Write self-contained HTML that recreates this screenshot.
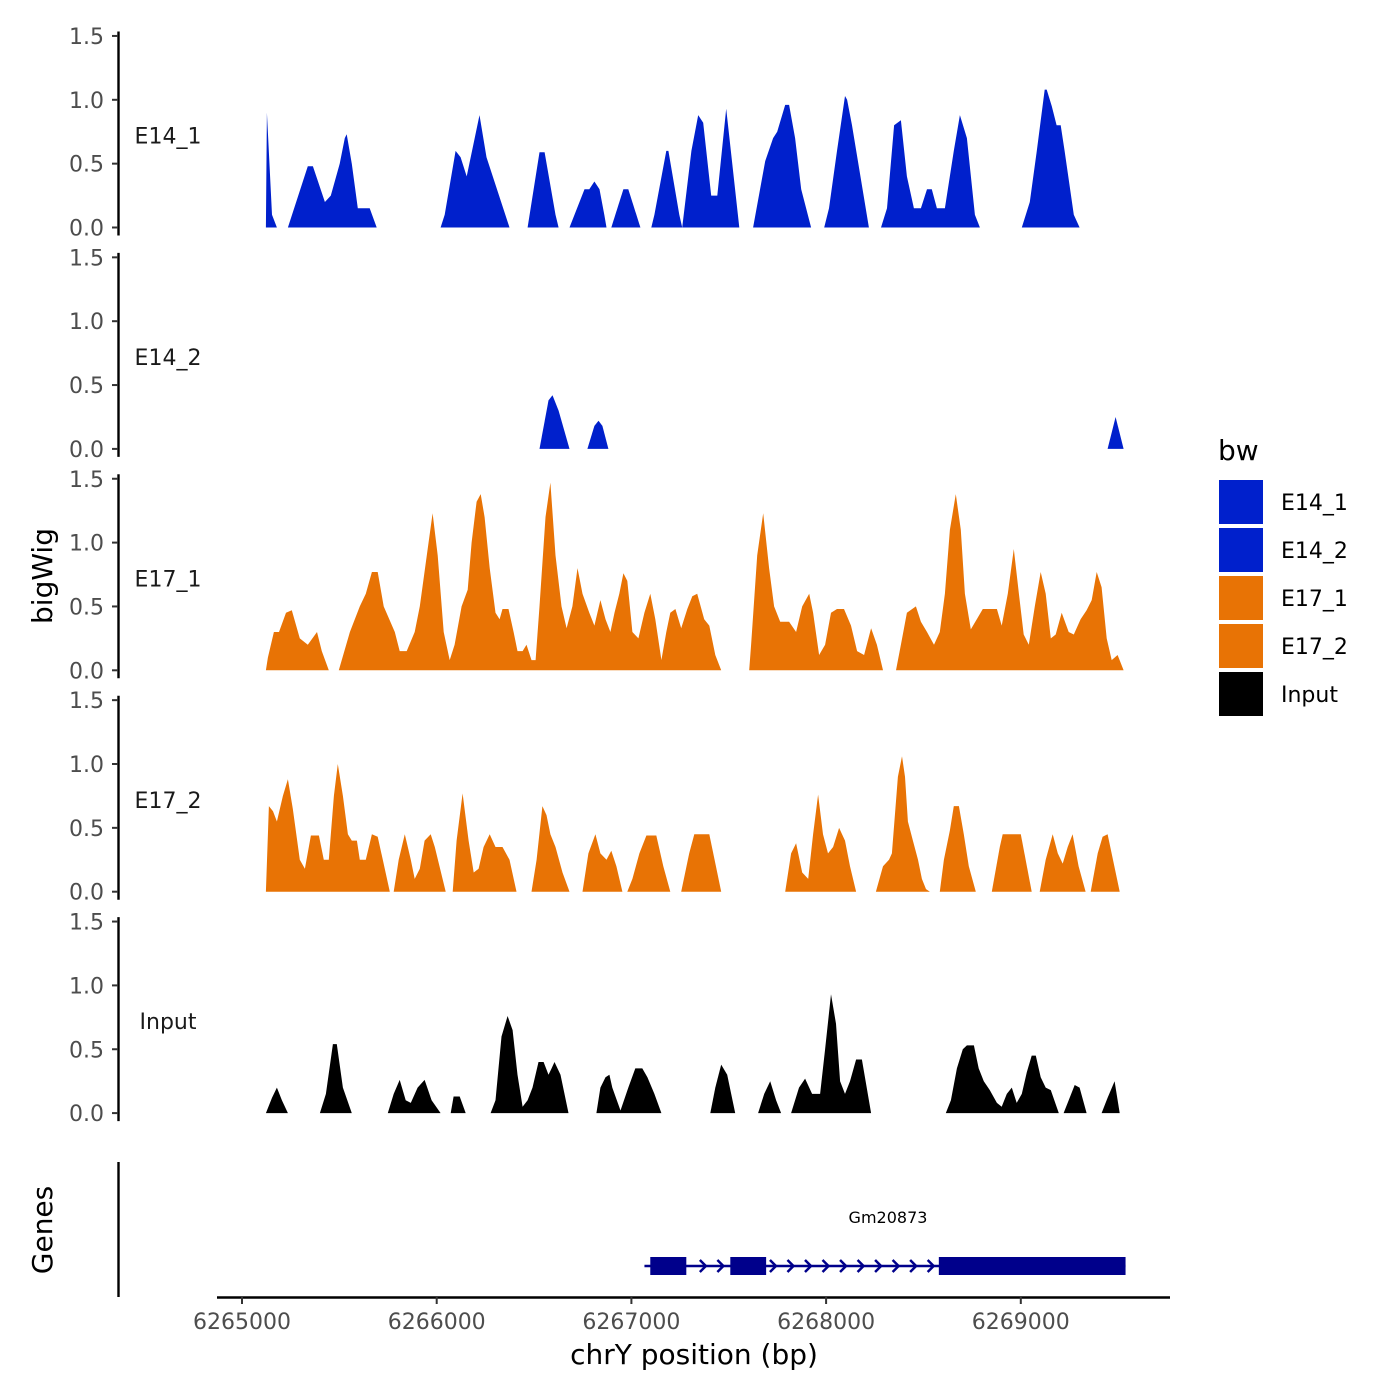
<!DOCTYPE html>
<html><head><meta charset="utf-8"><style>
html,body{margin:0;padding:0;background:#fff;}
svg{display:block;font-family:"DejaVu Sans","Liberation Sans",sans-serif;}
</style></head><body>
<svg id="chart" width="1400" height="1400" viewBox="0 0 1400 1400" xmlns="http://www.w3.org/2000/svg"></svg>
<script>
// Data: positions are bp offsets relative to BASE; null separates contiguous segments
const BASE = 6264882;
const trackNames = ["E14_1","E14_2","E17_1","E17_2","Input"];
const trackColors = ["#0020cc","#0020cc","#e87305","#e87305","#000000"];
const yTicks = [0,0.5,1.0,1.5];
const yTickLabels = ["0.0","0.5","1.0","1.5"];
const xTicks = [6265000,6266000,6267000,6268000,6269000];
const xTickLabels = ["6265000","6266000","6267000","6268000","6269000"];

const posE14_1 = [241,246,272,297,null,354,456,482,544,574,620,646,656,682,713,774,810,null,1138,1159,1215,1241,1272,1313,1338,1374,1492,null,1585,1646,1672,1728,1744,null,1800,1877,1902,1928,1954,1979,1990,null,2015,2077,2102,2164,null,2220,2236,2297,2308,2364,2379,null,2379,2426,2461,2487,2528,2559,2605,2672,null,2743,2805,2846,2867,2908,2928,2959,2990,3041,null,3108,3133,3174,3215,3226,3251,3338,null,3400,3431,3467,3502,3533,3569,3605,3636,3661,3687,3728,3774,3805,3841,3882,3908,null,4123,4164,4200,4241,4251,4277,4302,4323,4343,4390,4420];
const valE14_1 = [0,0.9,0.1,0,null,0,0.48,0.48,0.2,0.25,0.5,0.7,0.73,0.5,0.15,0.15,0,null,0,0.1,0.6,0.55,0.4,0.7,0.88,0.55,0,null,0,0.59,0.59,0.1,0,null,0,0.3,0.3,0.36,0.3,0.1,0,null,0,0.3,0.3,0,null,0,0.1,0.6,0.6,0.1,0,null,0,0.6,0.88,0.82,0.25,0.25,0.93,0,null,0,0.52,0.7,0.75,0.96,0.96,0.7,0.3,0,null,0,0.15,0.6,1.03,1.0,0.8,0,null,0,0.15,0.8,0.84,0.4,0.15,0.15,0.3,0.3,0.15,0.15,0.6,0.88,0.7,0.1,0,null,0,0.2,0.6,1.08,1.08,0.95,0.8,0.8,0.6,0.1,0];

const posE14_2 = [1646,1692,1713,1744,1800,null,1892,1928,1949,1969,2000,null,4564,4605,4646];
const valE14_2 = [0,0.38,0.42,0.3,0,null,0,0.18,0.22,0.18,0,null,0,0.25,0];

const posE17_1 = [241,251,282,308,344,374,415,456,503,528,564,null,615,672,723,754,785,815,846,903,928,964,1005,1031,1067,1097,1123,1154,1185,1210,1246,1277,1297,1323,1344,1364,1390,1420,1441,1456,1487,1513,1533,1559,1579,1605,1626,1646,1677,1702,1728,1759,1785,1815,1841,1867,1902,1928,1959,1985,2010,2031,2056,2077,2097,2123,2154,2185,2215,2241,2272,2297,2318,2344,2374,2405,2431,2456,2492,2518,2549,2579,null,2723,2733,2764,2795,2825,2851,2882,2928,2964,2995,3031,3051,3082,3113,3143,3174,3210,3246,3277,3313,3349,3379,3410,null,3477,3502,3533,3579,3605,3636,3672,3702,3728,3754,3784,3810,3831,3861,3892,3923,3995,4020,4051,4082,4108,4133,4159,4190,4220,4246,4272,4297,4328,4364,4390,4425,4456,4482,4508,4533,4559,4585,4615,4646];
const valE17_1 = [0,0.1,0.3,0.3,0.45,0.47,0.25,0.2,0.3,0.15,0,null,0,0.3,0.5,0.6,0.77,0.77,0.5,0.3,0.15,0.15,0.3,0.5,0.9,1.23,0.9,0.3,0.08,0.2,0.5,0.63,1.0,1.32,1.38,1.2,0.8,0.45,0.4,0.48,0.48,0.3,0.15,0.15,0.2,0.08,0.08,0.5,1.2,1.47,0.9,0.5,0.33,0.5,0.8,0.6,0.45,0.35,0.55,0.4,0.3,0.45,0.6,0.76,0.7,0.3,0.25,0.45,0.6,0.4,0.08,0.3,0.45,0.48,0.33,0.48,0.58,0.6,0.4,0.35,0.12,0,null,0,0.2,0.9,1.23,0.8,0.5,0.38,0.38,0.3,0.5,0.6,0.45,0.12,0.2,0.45,0.48,0.48,0.35,0.15,0.12,0.33,0.2,0,null,0,0.2,0.45,0.5,0.38,0.3,0.2,0.3,0.6,1.1,1.38,1.1,0.6,0.32,0.4,0.48,0.48,0.35,0.6,0.95,0.6,0.28,0.2,0.5,0.77,0.6,0.25,0.28,0.45,0.3,0.28,0.4,0.47,0.55,0.77,0.65,0.25,0.08,0.12,0];

const posE17_2 = [241,256,277,297,328,354,379,415,441,472,513,538,564,590,610,636,662,682,708,723,754,785,815,841,877,null,897,923,954,985,1005,1031,1056,1087,1108,1164,null,1200,1220,1251,1282,1308,1333,1359,1390,1420,1456,1492,1528,null,1605,1631,1661,1682,1702,1728,1764,1800,null,1867,1897,1933,1959,1990,2015,2041,2072,null,2097,2123,2159,2195,2246,2282,2318,null,2374,2415,2441,2518,2579,null,2908,2938,2964,2995,3026,3051,3077,3102,3128,3154,3185,3215,3241,3272,null,3374,3410,3441,3456,3487,3508,3523,3538,3564,3590,3610,3631,3651,null,3702,3723,3754,3774,3800,3825,3851,3887,null,3969,4010,4025,4118,4174,null,4215,4246,4282,4308,4333,4359,4384,4415,4451,null,4477,4513,4538,4564,4626];
const valE17_2 = [0,0.67,0.63,0.55,0.75,0.88,0.65,0.25,0.18,0.44,0.44,0.25,0.25,0.75,1.0,0.75,0.45,0.4,0.4,0.25,0.25,0.45,0.43,0.25,0,null,0,0.25,0.45,0.25,0.1,0.18,0.4,0.45,0.35,0,null,0,0.4,0.77,0.4,0.15,0.18,0.35,0.45,0.35,0.35,0.25,0,null,0,0.25,0.67,0.6,0.45,0.35,0.15,0,null,0,0.3,0.45,0.3,0.25,0.32,0.2,0,null,0,0.1,0.3,0.44,0.44,0.2,0,null,0,0.3,0.45,0.45,0,null,0,0.3,0.38,0.15,0.1,0.45,0.76,0.45,0.3,0.35,0.5,0.4,0.2,0,null,0,0.2,0.25,0.3,0.9,1.06,0.9,0.55,0.4,0.25,0.1,0.02,0,null,0,0.25,0.48,0.67,0.67,0.45,0.2,0,null,0,0.35,0.45,0.45,0,null,0,0.25,0.45,0.3,0.22,0.35,0.45,0.2,0,null,0,0.3,0.43,0.45,0];

const posInput = [241,272,297,323,354,null,518,549,585,605,636,682,null,867,897,928,959,985,1020,1056,1092,1138,null,1190,1205,1236,1267,null,1395,1420,1451,1482,1508,1533,1559,1585,1610,1641,1667,1692,1708,1723,1754,1795,null,1938,1959,1985,2005,2020,2062,2102,2138,2174,2200,2236,2272,null,2523,2549,2579,2610,2651,null,2769,2800,2831,2861,2887,null,2938,2979,3010,3046,3087,3113,3143,3169,3190,3215,3241,3272,3302,3349,null,3733,3759,3790,3820,3841,3877,3902,3928,3959,3995,4020,4046,4072,4097,4123,4149,4174,4195,4220,4246,4272,4313,null,4338,4364,4395,4420,4456,null,4533,4564,4600,4626];
const valInput = [0,0.12,0.2,0.1,0,null,0,0.15,0.54,0.54,0.2,0,null,0,0.15,0.26,0.1,0.08,0.2,0.26,0.1,0,null,0,0.13,0.13,0,null,0,0.1,0.6,0.76,0.65,0.3,0.05,0.1,0.2,0.4,0.4,0.3,0.35,0.4,0.3,0,null,0,0.2,0.28,0.3,0.2,0.02,0.2,0.35,0.35,0.28,0.15,0,null,0,0.2,0.38,0.3,0,null,0,0.15,0.25,0.1,0,null,0,0.2,0.27,0.15,0.15,0.5,0.93,0.7,0.25,0.15,0.25,0.42,0.42,0,null,0,0.1,0.35,0.5,0.53,0.53,0.35,0.25,0.18,0.08,0.05,0.15,0.2,0.08,0.15,0.32,0.45,0.45,0.28,0.2,0.18,0,null,0,0.1,0.22,0.2,0,null,0,0.12,0.25,0];

const trackPos = [posE14_1,posE14_2,posE17_1,posE17_2,posInput];
const trackVal = [valE14_1,valE14_2,valE17_1,valE17_2,valInput];

const geneName = "Gm20873";
const geneStart = 2185, geneEnd = 4656;
const exonStarts = [2215,2626,3697];
const exonEnds = [2400,2810,4656];

// Layout
const NS="http://www.w3.org/2000/svg";
const svg=document.getElementById('chart');
const X0=242, PXPERBP=194.7/1000;
function xs(bp){return X0+(bp-6265000)*PXPERBP;}
const PANEL0=227.5, PANELSTEP=221.4, YSCALE=127.7;
function ys(i,v){return PANEL0+i*PANELSTEP - v*YSCALE;}
function mk(tag,attrs,parent){const e=document.createElementNS(NS,tag);for(const k in attrs)e.setAttribute(k,attrs[k]);(parent||svg).appendChild(e);return e;}

function drawSeg(g,i,seg){
  if(seg.length<2) return;
  const y0=ys(i,0);
  let d='M'+xs(BASE+seg[0][0]).toFixed(1)+','+y0;
  seg.forEach(p=>{d+=' L'+xs(BASE+p[0]).toFixed(1)+','+ys(i,p[1]).toFixed(1);});
  d+=' L'+xs(BASE+seg[seg.length-1][0]).toFixed(1)+','+y0+' Z';
  const a=mk('path',{d:d,fill:trackColors[i]},g);
  
  
}

trackNames.forEach((name,i)=>{
  const g=mk('g',{});
  
  
  const y0=ys(i,0);
  const ax=mk('line',{x1:118.5,x2:118.5,y1:y0-196,y2:y0+8,stroke:'#000','stroke-width':2.4},g);
  
  
  yTicks.forEach((t,k)=>{
    const yy=ys(i,t);
    const tk=mk('line',{x1:112,x2:118,y1:yy,y2:yy,stroke:'#333','stroke-width':2},g);
    
    
    const tl=mk('text',{x:104,y:yy+8,'text-anchor':'end','font-size':22,fill:'#4d4d4d'},g);
    tl.textContent=yTickLabels[k];
    
    
  });
  const lab=mk('text',{x:168,y:ys(i,0.72)+8,'text-anchor':'middle','font-size':22,fill:'#1a1a1a'},g);
  lab.textContent=name;
  
  
  const P=trackPos[i], V=trackVal[i];
  let seg=[];
  for(let k=0;k<P.length;k++){
    if(P[k]===null){ drawSeg(g,i,seg); seg=[]; }
    else seg.push([P[k],V[k]]);
  }
  drawSeg(g,i,seg);
});

// Genes panel
const gg=mk('g',{});


const gax=mk('line',{x1:118.5,x2:118.5,y1:1162,y2:1297,stroke:'#000','stroke-width':2.4},gg);


const gl=mk('line',{x1:xs(BASE+geneStart),x2:xs(BASE+geneEnd),y1:1266,y2:1266,stroke:'#00008b','stroke-width':2.5},gg);


for(let bp=geneStart+30; bp<geneEnd; bp+=90){
  const inExon = exonStarts.some((s,k)=>bp>=s-20 && bp<=exonEnds[k]+20);
  if(inExon) continue;
  const x=xs(BASE+bp);
  const ar=mk('path',{d:`M${x-3},1260 L${x+3},1266 L${x-3},1272`,fill:'none',stroke:'#00008b','stroke-width':2.5},gg);
  
  
}
exonStarts.forEach((s,k)=>{
  const r=mk('rect',{x:xs(BASE+s),y:1257,width:xs(BASE+exonEnds[k])-xs(BASE+s),height:18,fill:'#00008b'},gg);
  
  
});
const gn=mk('text',{x:888,y:1223,'text-anchor':'middle','font-size':16,fill:'#000'},gg);
gn.textContent=geneName;



// X axis
const xg=mk('g',{});


mk('line',{x1:217,x2:1170,y1:1297.5,y2:1297.5,stroke:'#000','stroke-width':2.4},xg);
xTicks.forEach((t,k)=>{
  const x=xs(t);
  const tk=mk('line',{x1:x,x2:x,y1:1297,y2:1304,stroke:'#333','stroke-width':2},xg);
  
  
  const tl=mk('text',{x:x,y:1329,'text-anchor':'middle','font-size':22,fill:'#4d4d4d'},xg);
  tl.textContent=xTickLabels[k];
  
  
});
</script>
<svg style="position:absolute;left:0;top:0" width="1400" height="1400" font-family="DejaVu Sans, Liberation Sans, sans-serif">
  <text x="694" y="1364" text-anchor="middle" font-size="28" fill="#000">chrY position (bp)</text>
  <text transform="translate(52,576) rotate(-90)" text-anchor="middle" font-size="28" fill="#000">bigWig</text>
  <text transform="translate(52,1230) rotate(-90)" text-anchor="middle" font-size="28" fill="#000">Genes</text>
  <g>
    <text x="1218" y="460" font-size="28" fill="#000">bw</text>
    <rect x="1219" y="480" width="44" height="44" fill="#0020cc"/>
    <rect x="1219" y="528" width="44" height="44" fill="#0020cc"/>
    <rect x="1219" y="576" width="44" height="44" fill="#e87305"/>
    <rect x="1219" y="624" width="44" height="44" fill="#e87305"/>
    <rect x="1219" y="672" width="44" height="44" fill="#000"/>
    <text x="1281" y="510" font-size="22" fill="#000">E14_1</text>
    <text x="1281" y="558" font-size="22" fill="#000">E14_2</text>
    <text x="1281" y="606" font-size="22" fill="#000">E17_1</text>
    <text x="1281" y="654" font-size="22" fill="#000">E17_2</text>
    <text x="1281" y="702" font-size="22" fill="#000">Input</text>
  </g>
</svg>
</body></html>
